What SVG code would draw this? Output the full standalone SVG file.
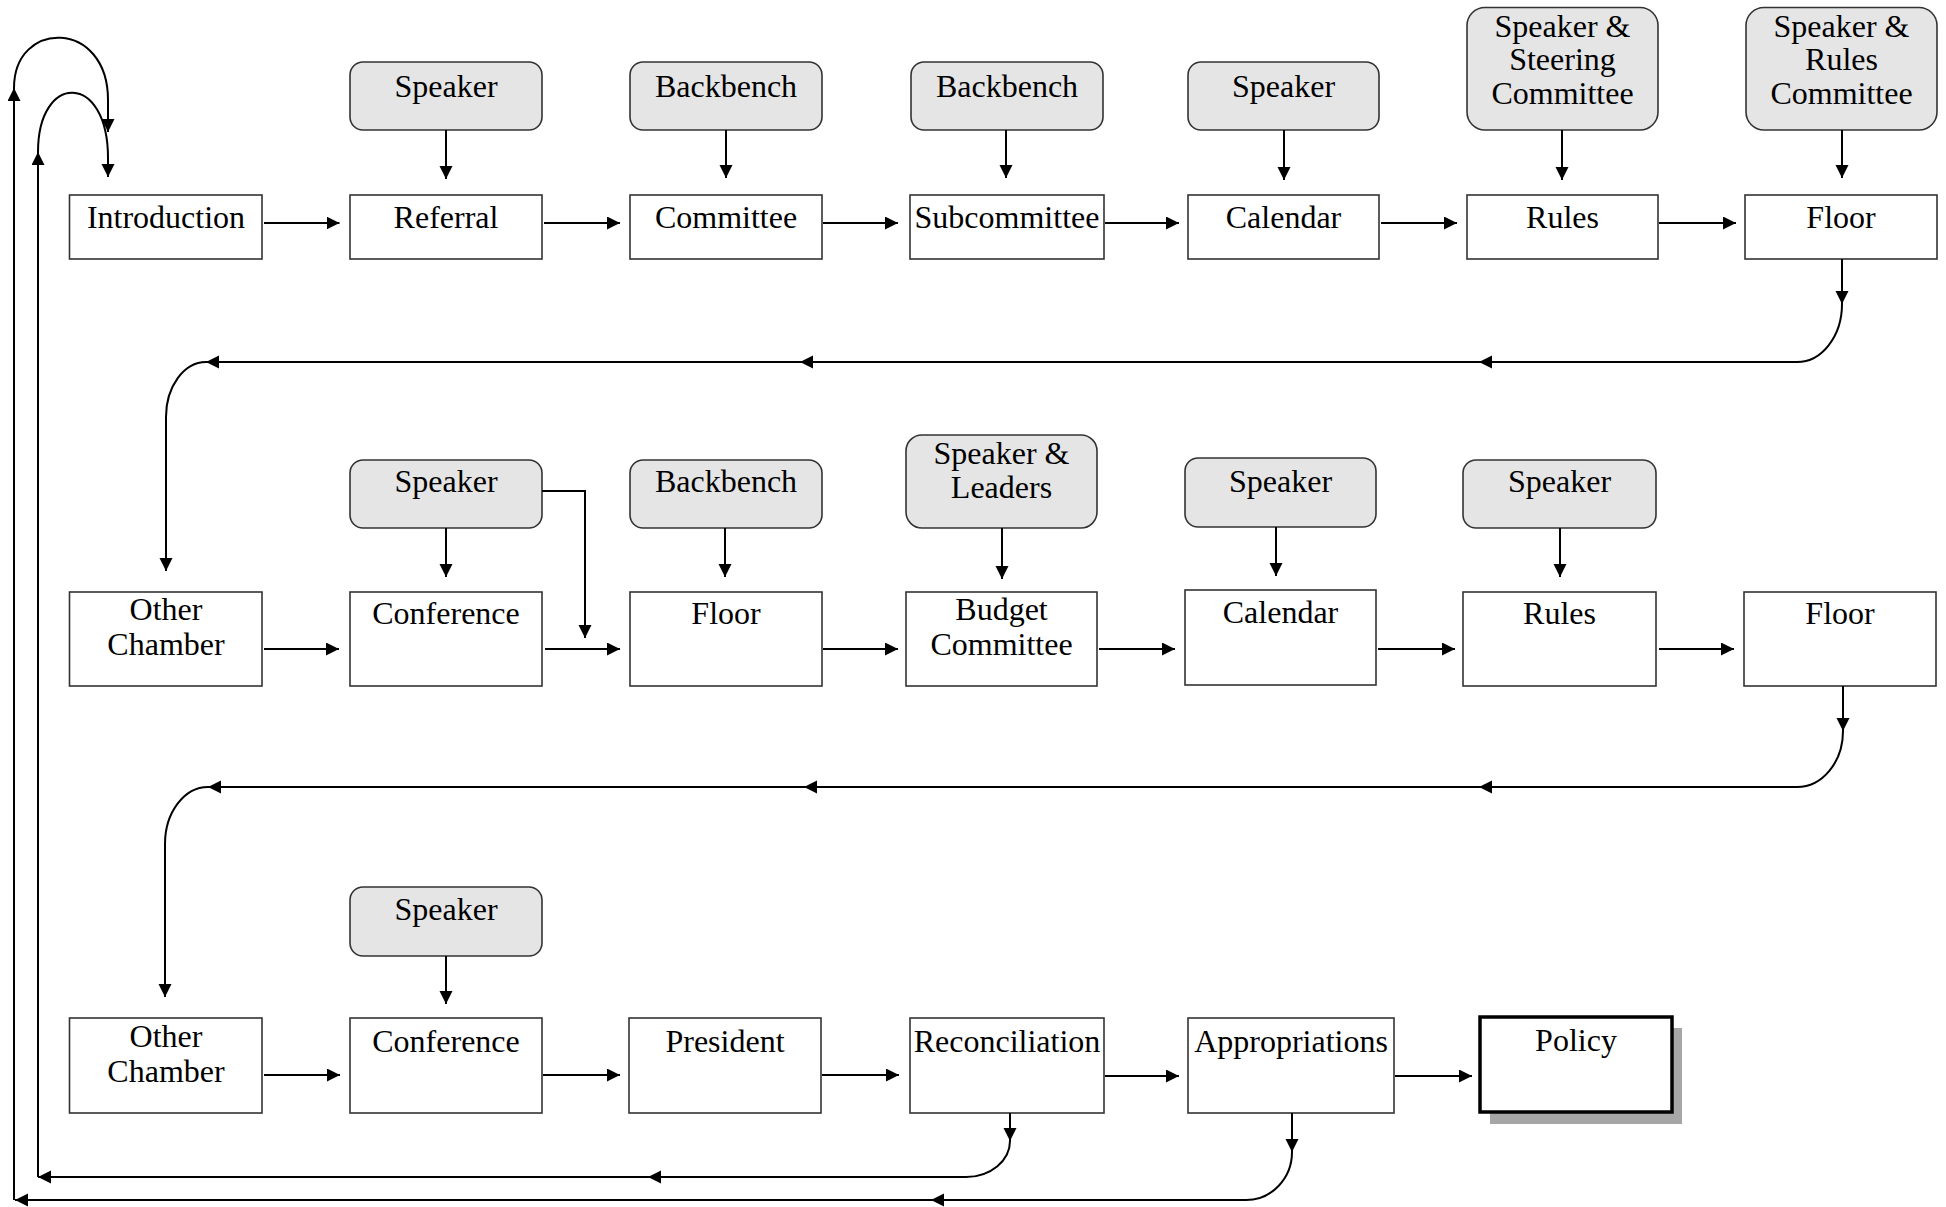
<svg xmlns="http://www.w3.org/2000/svg" width="1946" height="1207" viewBox="0 0 1946 1207">
<defs>
<style>
.box{fill:#fff;stroke:#333;stroke-width:1.6}
.actor{fill:#e5e5e5;stroke:#333;stroke-width:1.6}
.t{font-family:"Liberation Serif","Times New Roman",serif;font-size:32px;fill:#000;text-anchor:middle}
.c{fill:none;stroke:#000;stroke-width:2;marker-end:url(#ah)}
.l{fill:none;stroke:#000;stroke-width:2}
</style>
<marker id="ah" markerUnits="userSpaceOnUse" markerWidth="14" markerHeight="14" refX="13" refY="6.5" orient="auto">
<path d="M0,0 L13,6.5 L0,13 z" fill="#000"/>
</marker>
</defs>
<rect width="1946" height="1207" fill="#fff"/>

<!-- Row 1 actors -->
<g id="a-speaker1"><rect class="actor" x="350" y="62" width="192" height="68" rx="13"/><text class="t" x="446" y="97">Speaker</text></g>
<g id="a-backbench1"><rect class="actor" x="630" y="62" width="192" height="68" rx="13"/><text class="t" x="726" y="97">Backbench</text></g>
<g id="a-backbench2"><rect class="actor" x="911" y="62" width="192" height="68" rx="13"/><text class="t" x="1007" y="97">Backbench</text></g>
<g id="a-speaker2"><rect class="actor" x="1188" y="62" width="191" height="68" rx="13"/><text class="t" x="1283.5" y="97">Speaker</text></g>
<g id="a-steering"><rect class="actor" x="1467" y="7.5" width="191" height="122.5" rx="18"/><text class="t" x="1562.5" y="37">Speaker &amp;</text><text class="t" x="1562.5" y="70">Steering</text><text class="t" x="1562.5" y="104">Committee</text></g>
<g id="a-rulescomm"><rect class="actor" x="1746" y="7.5" width="191" height="122.5" rx="18"/><text class="t" x="1841.5" y="37">Speaker &amp;</text><text class="t" x="1841.5" y="70">Rules</text><text class="t" x="1841.5" y="104">Committee</text></g>

<!-- Row 1 steps -->
<g id="n-introduction"><rect class="box" x="69.5" y="195" width="192.5" height="64"/><text class="t" x="166" y="228">Introduction</text></g>
<g id="n-referral"><rect class="box" x="350" y="195" width="192" height="64"/><text class="t" x="446" y="228">Referral</text></g>
<g id="n-committee"><rect class="box" x="630" y="195" width="192" height="64"/><text class="t" x="726" y="228">Committee</text></g>
<g id="n-subcommittee"><rect class="box" x="910" y="195" width="194" height="64"/><text class="t" x="1007" y="228">Subcommittee</text></g>
<g id="n-calendar1"><rect class="box" x="1188" y="195" width="191" height="64"/><text class="t" x="1283.5" y="228">Calendar</text></g>
<g id="n-rules1"><rect class="box" x="1467" y="195" width="191" height="64"/><text class="t" x="1562.5" y="228">Rules</text></g>
<g id="n-floor1"><rect class="box" x="1745" y="195" width="192" height="64"/><text class="t" x="1841" y="228">Floor</text></g>

<!-- Row 2 actors -->
<g id="a-speaker3"><rect class="actor" x="350" y="460" width="192" height="68" rx="13"/><text class="t" x="446" y="492">Speaker</text></g>
<g id="a-backbench3"><rect class="actor" x="630" y="460" width="192" height="68" rx="13"/><text class="t" x="726" y="492">Backbench</text></g>
<g id="a-leaders"><rect class="actor" x="906" y="435" width="191" height="93" rx="16"/><text class="t" x="1001.5" y="464">Speaker &amp;</text><text class="t" x="1001.5" y="498">Leaders</text></g>
<g id="a-speaker4"><rect class="actor" x="1185" y="458" width="191" height="69" rx="13"/><text class="t" x="1280.5" y="492">Speaker</text></g>
<g id="a-speaker5"><rect class="actor" x="1463" y="460" width="193" height="68" rx="13"/><text class="t" x="1559.5" y="492">Speaker</text></g>

<!-- Row 2 steps -->
<g id="n-other1"><rect class="box" x="69.5" y="592" width="192.5" height="94"/><text class="t" x="166" y="620">Other</text><text class="t" x="166" y="655">Chamber</text></g>
<g id="n-conference1"><rect class="box" x="350" y="592" width="192" height="94"/><text class="t" x="446" y="624">Conference</text></g>
<g id="n-floor2"><rect class="box" x="630" y="592" width="192" height="94"/><text class="t" x="726" y="624">Floor</text></g>
<g id="n-budget"><rect class="box" x="906" y="592" width="191" height="94"/><text class="t" x="1001.5" y="620">Budget</text><text class="t" x="1001.5" y="655">Committee</text></g>
<g id="n-calendar2"><rect class="box" x="1185" y="590" width="191" height="95"/><text class="t" x="1280.5" y="623">Calendar</text></g>
<g id="n-rules2"><rect class="box" x="1463" y="592" width="193" height="94"/><text class="t" x="1559.5" y="624">Rules</text></g>
<g id="n-floor3"><rect class="box" x="1744" y="592" width="192" height="94"/><text class="t" x="1840" y="624">Floor</text></g>

<!-- Row 3 -->
<g id="a-speaker6"><rect class="actor" x="350" y="887" width="192" height="69" rx="13"/><text class="t" x="446" y="920">Speaker</text></g>
<g id="n-other2"><rect class="box" x="69.5" y="1018" width="192.5" height="95"/><text class="t" x="166" y="1047">Other</text><text class="t" x="166" y="1082">Chamber</text></g>
<g id="n-conference2"><rect class="box" x="350" y="1018" width="192" height="95"/><text class="t" x="446" y="1052">Conference</text></g>
<g id="n-president"><rect class="box" x="629" y="1018" width="192" height="95"/><text class="t" x="725" y="1052">President</text></g>
<g id="n-reconciliation"><rect class="box" x="910" y="1018" width="194" height="95"/><text class="t" x="1007" y="1052">Reconciliation</text></g>
<g id="n-appropriations"><rect class="box" x="1188" y="1018" width="206" height="95"/><text class="t" x="1291" y="1052">Appropriations</text></g>
<g id="n-policy"><rect x="1490" y="1028" width="192" height="96" fill="#a6a6a6"/><rect x="1480" y="1017" width="192" height="95" fill="#fff" stroke="#000" stroke-width="3.5"/><text class="t" x="1576" y="1051">Policy</text></g>

<g id="connectors">
<!-- row 1 horizontal -->
<path class="c" d="M264,223 L339.5,223"/>
<path class="c" d="M544,223 L620,223"/>
<path class="c" d="M823,223 L898,223"/>
<path class="c" d="M1105,223 L1179,223"/>
<path class="c" d="M1381,223 L1457,223"/>
<path class="c" d="M1659,223 L1736,223"/>
<!-- row 1 actor arrows -->
<path class="c" d="M446,130 L446,179"/>
<path class="c" d="M726,130 L726,178"/>
<path class="c" d="M1006,130 L1006,178"/>
<path class="c" d="M1284,130 L1284,180"/>
<path class="c" d="M1562,130 L1562,180"/>
<path class="c" d="M1842,130 L1842,178"/>
<!-- floor1 to other chamber -->
<path class="c" d="M1842,259 L1842,304"/>
<path class="c" d="M1842,304 A45,58 0 0 1 1797,362 L1479,362"/>
<path class="c" d="M1479,362 L800,362"/>
<path class="c" d="M800,362 L206,362"/>
<path class="c" d="M206,362 A40,55 0 0 0 166,417 L166,571"/>
<!-- row 2 horizontal -->
<path class="c" d="M264,649 L339,649"/>
<path class="c" d="M545,649 L620,649"/>
<path class="c" d="M823,649 L898,649"/>
<path class="c" d="M1099,649 L1175,649"/>
<path class="c" d="M1378,649 L1455,649"/>
<path class="c" d="M1659,649 L1734,649"/>
<!-- row 2 actor arrows -->
<path class="c" d="M446,528 L446,577"/>
<path class="c" d="M725,528 L725,577"/>
<path class="c" d="M1002,528 L1002,579"/>
<path class="c" d="M1276,527 L1276,576"/>
<path class="c" d="M1560,528 L1560,577"/>
<path class="c" d="M542,491 L585,491 L585,638"/>
<!-- floor3 to other chamber 2 -->
<path class="c" d="M1843,686 L1843,731"/>
<path class="c" d="M1843,731 A46,56 0 0 1 1797,787 L1479,787"/>
<path class="c" d="M1479,787 L804,787"/>
<path class="c" d="M804,787 L208,787"/>
<path class="c" d="M208,787 A43,57 0 0 0 165,844 L165,997"/>
<!-- row 3 horizontal -->
<path class="c" d="M264,1075 L340,1075"/>
<path class="c" d="M543,1075 L620,1075"/>
<path class="c" d="M822,1075 L899,1075"/>
<path class="c" d="M1105,1076 L1179,1076"/>
<path class="c" d="M1395,1076 L1472,1076"/>
<path class="c" d="M446,956 L446,1004"/>
<!-- reconciliation loop back -->
<path class="c" d="M1010,1113 L1010,1141"/>
<path class="c" d="M1010,1141 A44,36 0 0 1 966,1177 L648,1177"/>
<path class="c" d="M648,1177 L38,1177"/>
<path class="c" d="M38,1177 L38,152"/>
<path class="c" d="M38,152 C38,72 108,72 108,158 L108,177"/>
<!-- appropriations loop back -->
<path class="c" d="M1292,1113 L1292,1152"/>
<path class="c" d="M1292,1152 A46,48 0 0 1 1246,1200 L931,1200"/>
<path class="c" d="M931,1200 L15,1200"/>
<path class="c" d="M14,1200 L14,88"/>
<path class="c" d="M14,88 C14,19 108,19 108,100 L108,132"/>
</g>
</svg>
